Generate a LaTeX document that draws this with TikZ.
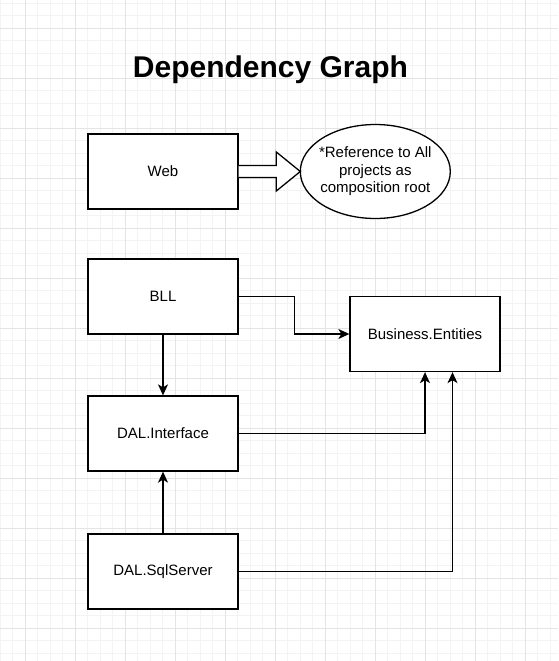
\documentclass[tikz,border=0pt]{standalone}
\usepackage{fontspec}
\setmainfont{Liberation Sans}
\usetikzlibrary{arrows.meta,calc,shapes.geometric}
\definecolor{gminorc}{HTML}{F3F3F3}
\definecolor{gmajorc}{HTML}{E4E4E4}
\begin{document}
\begin{tikzpicture}[x=1pt,y=-1pt,
  box/.style={draw=black, line width=1.3pt, minimum width=150pt, minimum height=75pt, inner sep=0pt, font=\fontsize{15}{18}\selectfont, fill=white},
  conn/.style={draw=black, line width=1.3pt, -{Stealth[length=11pt,width=10pt,inset=3pt]}},
  gminor/.style={draw=gminorc, line width=1pt},
  gmajor/.style={draw=gmajorc, line width=1pt},
]
\useasboundingbox (0,0) rectangle (558,661);
\fill[white] (0,0) rectangle (558,661);
% grid
\foreach \i in {0,...,44} \draw[gminor] ({\i*12.5},0) -- ({\i*12.5},661);
\foreach \j in {0,...,52} \draw[gminor] (0,{3.3+\j*12.5}) -- (558,{3.3+\j*12.5});
\foreach \i in {0,...,10} \draw[gmajor] ({25+\i*50},0) -- ({25+\i*50},661);
\foreach \j in {0,...,12} \draw[gmajor] (0,{28.3+\j*50}) -- (558,{28.3+\j*50});
% title
\node[font=\bfseries\fontsize{30}{36}\selectfont, anchor=base, inner sep=0pt] (title) at (270.5,77.3) {Dependency Graph};
% boxes
\node[box] (web) at (163,171.5) {Web};
\node[ellipse, minimum width=150pt, minimum height=94pt, inner sep=0pt, outer sep=0pt] (ell) at (375.3,171.5) {};
\draw[draw=black, line width=1.3pt, fill=white] (ell.center) ellipse [x radius=75, y radius=47];
\node[align=center, inner sep=0pt, font=\fontsize{15}{17.4}\selectfont] (elltext) at (ell.center) {*Reference to All\\projects as\\composition root};
\node[box] (bll) at (163,296.5) {BLL};
\node[box] (be) at (425,334) {Business.Entities};
\node[box] (dali) at (163,433.5) {DAL.Interface};
\node[box] (sql) at (163,571.5) {DAL.SqlServer};
% block arrow from Web to ellipse
\draw[draw=black, line width=1.3pt, fill=white, line join=miter]
  let \p1=(web.east), \p2=(ell.west) in
  (\x1,\y1+6pt) -- (\x2-24pt,\y1+6pt) -- (\x2-24pt,\y1+19.5pt) -- (\x2,\y1)
  -- (\x2-24pt,\y1-19.5pt) -- (\x2-24pt,\y1-6pt) -- (\x1,\y1-6pt);
% connectors
\draw[conn] (bll.east) -- ++(56,0) |- (be.west);
\draw[conn] (bll.south) -- (dali.north);
\draw[conn] (dali.east) -| (be.south);
\coordinate (be2) at ($(be.south)+(27.5,0)$);
\draw[conn] (sql.east) -| (be2);
\draw[conn] (sql.north) -- (dali.south);
\end{tikzpicture}
\end{document}
